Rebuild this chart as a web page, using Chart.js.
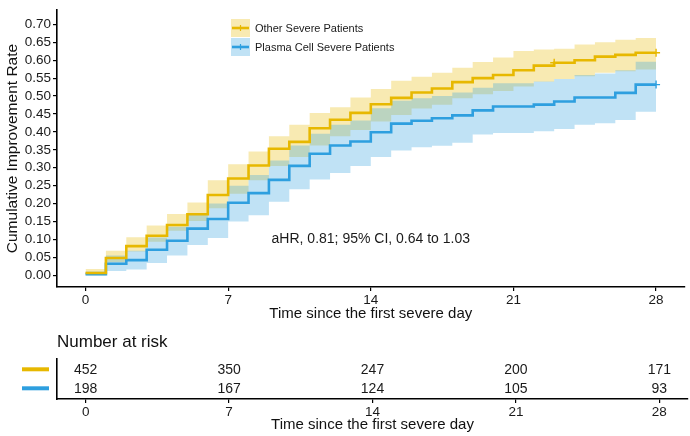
<!DOCTYPE html>
<html>
<head>
<meta charset="utf-8">
<script src="https://cdn.jsdelivr.net/npm/chart.js@4.4.1/dist/chart.umd.min.js"></script>
<style>
  html, body { margin: 0; padding: 0; background: #fff; }
  #wrap { position: relative; width: 690px; height: 436px; }
  #main { position: absolute; left: 0; top: 0; width: 690px; height: 323px; }
  #risk { position: absolute; left: 0; top: 330px; width: 690px; height: 106px; }
</style>
</head>
<body>
<div id="wrap">
  <div id="main"><canvas id="kmChart"></canvas></div>
  <div id="risk"><canvas id="riskChart"></canvas></div>
</div>
<script>
// days since first severe day
const days = [0, 1, 2, 3, 4, 5, 6, 7, 8, 9, 10, 11, 12, 13, 14, 15, 16, 17, 18, 19, 20, 21, 22, 23, 24, 25, 26, 27, 28];

// Other severe patients
const otherRate  = [0.006, 0.048, 0.081, 0.110, 0.140, 0.170, 0.224, 0.270, 0.306, 0.353, 0.372, 0.410, 0.434, 0.453, 0.477, 0.495, 0.510, 0.521, 0.539, 0.550, 0.559, 0.572, 0.585, 0.593, 0.600, 0.610, 0.615, 0.621, 0.621];
const otherUpper = [0.017, 0.068, 0.106, 0.139, 0.171, 0.203, 0.265, 0.310, 0.345, 0.388, 0.420, 0.453, 0.469, 0.496, 0.520, 0.543, 0.554, 0.565, 0.579, 0.595, 0.608, 0.626, 0.630, 0.632, 0.644, 0.650, 0.657, 0.662, 0.662];
const otherLower = [0.000, 0.036, 0.066, 0.093, 0.124, 0.151, 0.187, 0.227, 0.265, 0.305, 0.330, 0.362, 0.388, 0.405, 0.429, 0.447, 0.465, 0.476, 0.494, 0.505, 0.514, 0.527, 0.540, 0.548, 0.555, 0.565, 0.569, 0.574, 0.574];

// Plasma cell severe patients
const plasmaRate  = [0.003, 0.032, 0.042, 0.071, 0.096, 0.130, 0.157, 0.202, 0.229, 0.266, 0.305, 0.339, 0.362, 0.373, 0.399, 0.423, 0.431, 0.438, 0.446, 0.460, 0.471, 0.471, 0.476, 0.485, 0.496, 0.496, 0.509, 0.532, 0.532];
const plasmaUpper = [0.010, 0.055, 0.068, 0.105, 0.135, 0.170, 0.200, 0.250, 0.280, 0.320, 0.362, 0.395, 0.420, 0.432, 0.466, 0.487, 0.494, 0.500, 0.510, 0.523, 0.536, 0.536, 0.541, 0.548, 0.559, 0.563, 0.572, 0.596, 0.596];
const plasmaLower = [0.000, 0.012, 0.016, 0.034, 0.055, 0.084, 0.104, 0.150, 0.167, 0.205, 0.240, 0.267, 0.285, 0.305, 0.330, 0.348, 0.357, 0.361, 0.370, 0.393, 0.397, 0.397, 0.402, 0.408, 0.420, 0.424, 0.433, 0.456, 0.456];

// censor marks (days)
const otherCensorDays = [23, 28];
const plasmaCensorDays = [28];

const xTicks = [0, 7, 14, 21, 28];
const yTicks = [0, 0.05, 0.10, 0.15, 0.20, 0.25, 0.30, 0.35, 0.40, 0.45, 0.50, 0.55, 0.60, 0.65, 0.70];

// number at risk table
const riskDays = [0, 7, 14, 21, 28];
const riskOther = [452, 350, 247, 200, 171];
const riskPlasma = [198, 167, 124, 105, 93];

const seriesNames = ['Other Severe Patients', 'Plasma Cell Severe Patients'];
const noteText = 'aHR, 0.81; 95% CI, 0.64 to 1.03';
const noteDay = 14;
const noteRate = 0.10;

const ORANGE = '#E7B800';
const BLUE = '#2E9FDF';
const ORANGE_BAND = 'rgba(231, 184, 0, 0.3)';
const BLUE_BAND = 'rgba(46, 159, 223, 0.3)';

Chart.defaults.font.family = "'Liberation Sans', Arial, Helvetica, sans-serif";
Chart.defaults.color = '#1a1a1a';

function pts(ys) {
    return days.map((d, i) => ({ x: d, y: ys[i] }));
}

function censorPts(list, ys) {
    return list.map(d => ({ x: d, y: ys[days.indexOf(d)] }));
}

function xScale(height, titlePad) {
    return {
        type: 'linear',
        min: -1.4,
        max: 29.4,
        afterBuildTicks: s => { s.ticks = xTicks.map(v => ({ value: v })); },
        afterFit: s => { s.height = height; },
        grid: { drawOnChartArea: false, drawTicks: true, tickLength: 4, color: '#000', lineWidth: 1.2 },
        border: { display: true, color: '#000', width: 1.6 },
        ticks: { color: '#1a1a1a', font: { size: 13.5 }, padding: 1, maxRotation: 0, autoSkip: false },
        title: { display: true, text: 'Time since the first severe day', color: '#111', font: { size: 15 }, padding: { top: 0, bottom: titlePad } }
    };
}

// legend keys and the aHR note
const kmExtras = {
    id: 'kmExtras',
    afterDraw(chart) {
        const ctx = chart.ctx;
        const keys = [
            { line: ORANGE, band: ORANGE_BAND, label: seriesNames[0] },
            { line: BLUE, band: BLUE_BAND, label: seriesNames[1] }
        ];
        ctx.save();
        keys.forEach((k, i) => {
            const top = 19 + i * 19;
            ctx.fillStyle = k.band;
            ctx.fillRect(231, top, 19, 18);
            ctx.strokeStyle = k.line;
            ctx.lineWidth = 2.6;
            ctx.beginPath();
            ctx.moveTo(232, top + 9);
            ctx.lineTo(249, top + 9);
            ctx.stroke();
            ctx.lineWidth = 1.2;
            ctx.beginPath();
            ctx.moveTo(240.5, top + 6);
            ctx.lineTo(240.5, top + 12);
            ctx.stroke();
            ctx.fillStyle = '#1a1a1a';
            ctx.font = "11px 'Liberation Sans', Arial, sans-serif";
            ctx.textAlign = 'left';
            ctx.textBaseline = 'middle';
            ctx.fillText(k.label, 255, top + 10);
        });

        const x = chart.scales.x.getPixelForValue(noteDay);
        const y = chart.scales.y.getPixelForValue(noteRate);
        ctx.font = "14px 'Liberation Sans', Arial, sans-serif";
        ctx.textAlign = 'center';
        ctx.textBaseline = 'middle';
        ctx.fillStyle = '#1a1a1a';
        ctx.fillText(noteText, x, y);
        ctx.restore();
    }
};

new Chart(document.getElementById('kmChart').getContext('2d'), {
    type: 'line',
    data: {
        datasets: [
            { data: pts(otherLower), borderWidth: 0, pointRadius: 0, fill: false, stepped: true, order: 4 },
            { data: pts(otherUpper), borderWidth: 0, pointRadius: 0, fill: '-1', backgroundColor: ORANGE_BAND, stepped: true, order: 4 },
            { data: pts(plasmaLower), borderWidth: 0, pointRadius: 0, fill: false, stepped: true, order: 3 },
            { data: pts(plasmaUpper), borderWidth: 0, pointRadius: 0, fill: '-1', backgroundColor: BLUE_BAND, stepped: true, order: 3 },
            { label: seriesNames[0], data: pts(otherRate), borderColor: ORANGE, borderWidth: 2.6, pointRadius: 0, stepped: true, order: 1 },
            { label: seriesNames[1], data: pts(plasmaRate), borderColor: BLUE, borderWidth: 2.6, pointRadius: 0, stepped: true, order: 1 },
            { data: censorPts(otherCensorDays, otherRate), showLine: false, pointStyle: 'cross', pointRadius: 4, borderColor: ORANGE, borderWidth: 1.4, order: 0 },
            { data: censorPts(plasmaCensorDays, plasmaRate), showLine: false, pointStyle: 'cross', pointRadius: 4, borderColor: BLUE, borderWidth: 1.4, order: 0 }
        ]
    },
    options: {
        responsive: true,
        maintainAspectRatio: false,
        animation: false,
        layout: { padding: { left: 0, right: 2, top: 0, bottom: 0 } },
        plugins: { legend: { display: false }, tooltip: { enabled: false } },
        scales: {
            x: xScale(36, 0),
            y: {
                type: 'linear',
                min: -0.033,
                max: 0.74,
                afterBuildTicks: s => { s.ticks = yTicks.map(v => ({ value: v })); },
                afterFit: s => { s.width = 57; },
                grid: { drawOnChartArea: false, drawTicks: true, tickLength: 4, color: '#000', lineWidth: 1.2 },
                border: { display: true, color: '#000', width: 1.6 },
                ticks: { color: '#1a1a1a', font: { size: 13.5 }, padding: 2, callback: v => v.toFixed(2) },
                title: { display: true, text: 'Cumulative Improvement Rate', color: '#111', font: { size: 15.5 }, padding: { top: 3, bottom: 0 } }
            }
        }
    },
    plugins: [kmExtras]
});

// risk table: numbers and coloured keys
const riskText = {
    id: 'riskText',
    afterDatasetsDraw(chart) {
        const ctx = chart.ctx;
        const xs = chart.scales.x, ys = chart.scales.y;
        ctx.save();
        chart.data.datasets.forEach(ds => {
            const rowY = ys.getPixelForValue(ds.data[0].y);
            ctx.strokeStyle = ds.borderColor;
            ctx.lineWidth = 4;
            ctx.beginPath();
            ctx.moveTo(22, rowY);
            ctx.lineTo(49, rowY);
            ctx.stroke();
            ctx.fillStyle = '#1a1a1a';
            ctx.font = "14px 'Liberation Sans', Arial, sans-serif";
            ctx.textAlign = 'center';
            ctx.textBaseline = 'middle';
            ds.data.forEach(p => {
                ctx.fillText(String(p.n), xs.getPixelForValue(p.x), ys.getPixelForValue(p.y) + 0.5);
            });
        });
        ctx.restore();
    }
};

new Chart(document.getElementById('riskChart').getContext('2d'), {
    type: 'line',
    data: {
        datasets: [
            { data: riskDays.map((d, i) => ({ x: d, y: 2, n: riskOther[i] })), borderColor: ORANGE, showLine: false, pointRadius: 0 },
            { data: riskDays.map((d, i) => ({ x: d, y: 1, n: riskPlasma[i] })), borderColor: BLUE, showLine: false, pointRadius: 0 }
        ]
    },
    options: {
        responsive: true,
        maintainAspectRatio: false,
        animation: false,
        layout: { padding: { left: 57, right: 2, top: 0, bottom: 0 } },
        plugins: {
            legend: { display: false },
            tooltip: { enabled: false },
            title: { display: true, text: 'Number at risk', align: 'start', color: '#111', font: { size: 17, weight: 'normal' }, padding: { top: 2, bottom: 6 } }
        },
        scales: {
            x: xScale(37, 2),
            y: {
                type: 'linear',
                min: 0.437,
                max: 2.574,
                afterFit: s => { s.width = 0; },
                grid: { display: false },
                border: { display: true, color: '#000', width: 1.6 },
                ticks: { display: false }
            }
        }
    },
    plugins: [riskText]
});
</script>
</body>
</html>
